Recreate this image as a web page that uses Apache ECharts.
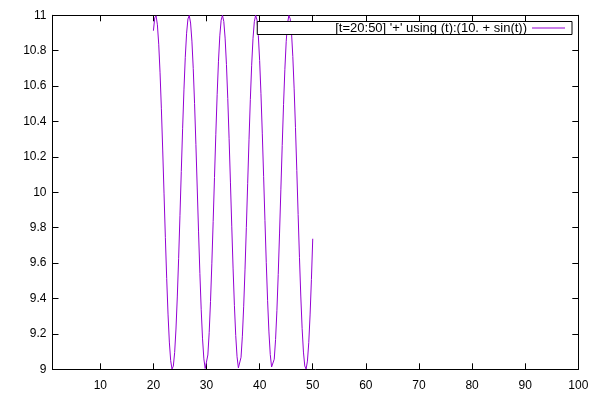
<!DOCTYPE html>
<html><head><meta charset="utf-8">
<script src="https://cdn.jsdelivr.net/npm/echarts@6/dist/echarts.min.js"></script>
<style>html,body{margin:0;padding:0;background:#fff}#c{width:600px;height:400px}</style>
</head><body><div id="c"></div>
<script>
const seriesName = "[t=20:50] '+' using (t):(10. + sin(t))";
const tValues = [20,20.25,20.5,20.75,21,21.25,21.5,21.75,22,22.25,22.5,22.75,23,23.25,23.5,23.75,24,24.25,24.5,24.75,
  25,25.25,25.5,25.75,26,26.25,26.5,26.75,27,27.25,27.5,27.75,28,28.25,28.5,28.75,29,29.25,29.5,29.75,
  30,30.25,30.5,30.75,31,31.25,31.5,31.75,32,32.25,32.5,32.75,33,33.25,33.5,33.75,34,34.25,34.5,34.75,
  35,35.25,35.5,35.75,36,36.25,36.5,36.75,37,37.25,37.5,37.75,38,38.25,38.5,38.75,39,39.25,39.5,39.75,
  40,40.25,40.5,40.75,41,41.25,41.5,41.75,42,42.25,42.5,42.75,43,43.25,43.5,43.75,44,44.25,44.5,44.75,
  45,45.25,45.5,45.75,46,46.25,46.5,46.75,47,47.25,47.5,47.75,48,48.25,48.5,48.75,49,49.25,49.5,49.75,50];
const yValues = [10.91295,10.98553,10.99683,10.94618,10.83666,10.67507,10.47164,10.23882,9.99115,9.74403,
  9.51283,9.31194,9.15378,9.04860,9.00192,9.01755,9.09442,9.22754,9.40864,9.62655,
  9.86765,10.11699,10.35906,10.57872,10.76256,10.89878,10.97934,10.99892,10.95638,10.85427,
  10.69945,10.50064,10.27091,10.02433,9.77624,9.54205,9.33637,9.17201,9.05898,9.00455,
  9.01197,9.08094,9.20687,9.38230,9.59596,9.83483,10.08397,10.32789,10.55143,10.74063,
  10.88394,10.97211,10.99991,10.96557,10.87103,10.72252,10.52911,10.30270,10.05749,9.80871,
  9.57182,9.36164,9.19099,9.07067,9.00822,9.00743,9.06785,9.18710,9.35646,9.56583,
  9.80220,10.05087,10.29637,10.52336,10.71804,10.86753,10.96379,10.99980,10.97355,10.88707,
  10.74511,10.55694,10.33415,10.09058,9.84138,9.60203,9.38746,9.21104,9.08348,9.01299,
  9.00392,9.05692,9.16823,9.33129,9.53618,9.76979,10.01770,10.26452,10.49491,10.69475,
  10.85090,10.95448,10.99854,10.98073,10.90178,10.76680,10.58417,10.36523,10.12357,9.87422,
  9.63270,9.41399,9.23175,9.09724,9.01884,9.00154,9.04625,9.15033,9.30711,9.50703,9.73763];
const xTicks = [10,20,30,40,50,60,70,80,90,100];
const yMin = 9, yMax = 11, yStep = 0.2;
const xMin = 1, xMax = 100;

const data = tValues.map((t, i) => [t, yValues[i]]);
const chart = echarts.init(document.getElementById('c'));
const font = 'Liberation Sans, Arial, sans-serif';
const tick = {show: true, inside: true, length: 6, lineStyle: {color: '#000'}};
chart.setOption({
  animation: false,
  backgroundColor: '#fff',
  grid: {left: 52.5, right: 21.7, top: 15.3, bottom: 30.7},
  legend: {
    show: true, right: 28, top: 21.5, align: 'right',
    padding: [0, 7, 0, 78],
    backgroundColor: '#fff', borderColor: '#000', borderWidth: 1, borderRadius: 0,
    itemWidth: 33, itemHeight: 10, itemGap: 8,
    icon: 'path://M0,0L33,0L33,1L0,1Z',
    itemStyle: {color: '#9400d3'},
    textStyle: {fontFamily: font, fontSize: 13, color: '#000'}
  },
  xAxis: [{
    type: 'value', min: xMin, max: xMax, position: 'bottom',
    axisLine: {show: true, onZero: false, lineStyle: {color: '#000'}},
    axisTick: Object.assign({customValues: xTicks}, tick),
    axisLabel: {customValues: xTicks, margin: 10, color: '#000', fontFamily: font, fontSize: 12},
    splitLine: {show: false}
  }, {
    type: 'value', min: xMin, max: xMax, position: 'top',
    axisLine: {show: true, onZero: false, lineStyle: {color: '#000'}},
    axisTick: Object.assign({customValues: xTicks}, tick),
    axisLabel: {show: false},
    splitLine: {show: false}
  }],
  yAxis: [{
    type: 'value', min: yMin, max: yMax, interval: yStep, position: 'left',
    axisLine: {show: true, onZero: false, lineStyle: {color: '#000'}},
    axisTick: tick,
    axisLabel: {margin: 6, color: '#000', fontFamily: font, fontSize: 12},
    splitLine: {show: false}
  }, {
    type: 'value', min: yMin, max: yMax, interval: yStep, position: 'right',
    axisLine: {show: true, onZero: false, lineStyle: {color: '#000'}},
    axisTick: tick,
    axisLabel: {show: false},
    splitLine: {show: false}
  }],
  series: [{
    name: seriesName, type: 'line', data: data, smooth: false,
    showSymbol: false, symbol: 'none', clip: true,
    lineStyle: {color: '#9400d3', width: 1},
    itemStyle: {color: '#9400d3'}
  }]
});
</script></body></html>
